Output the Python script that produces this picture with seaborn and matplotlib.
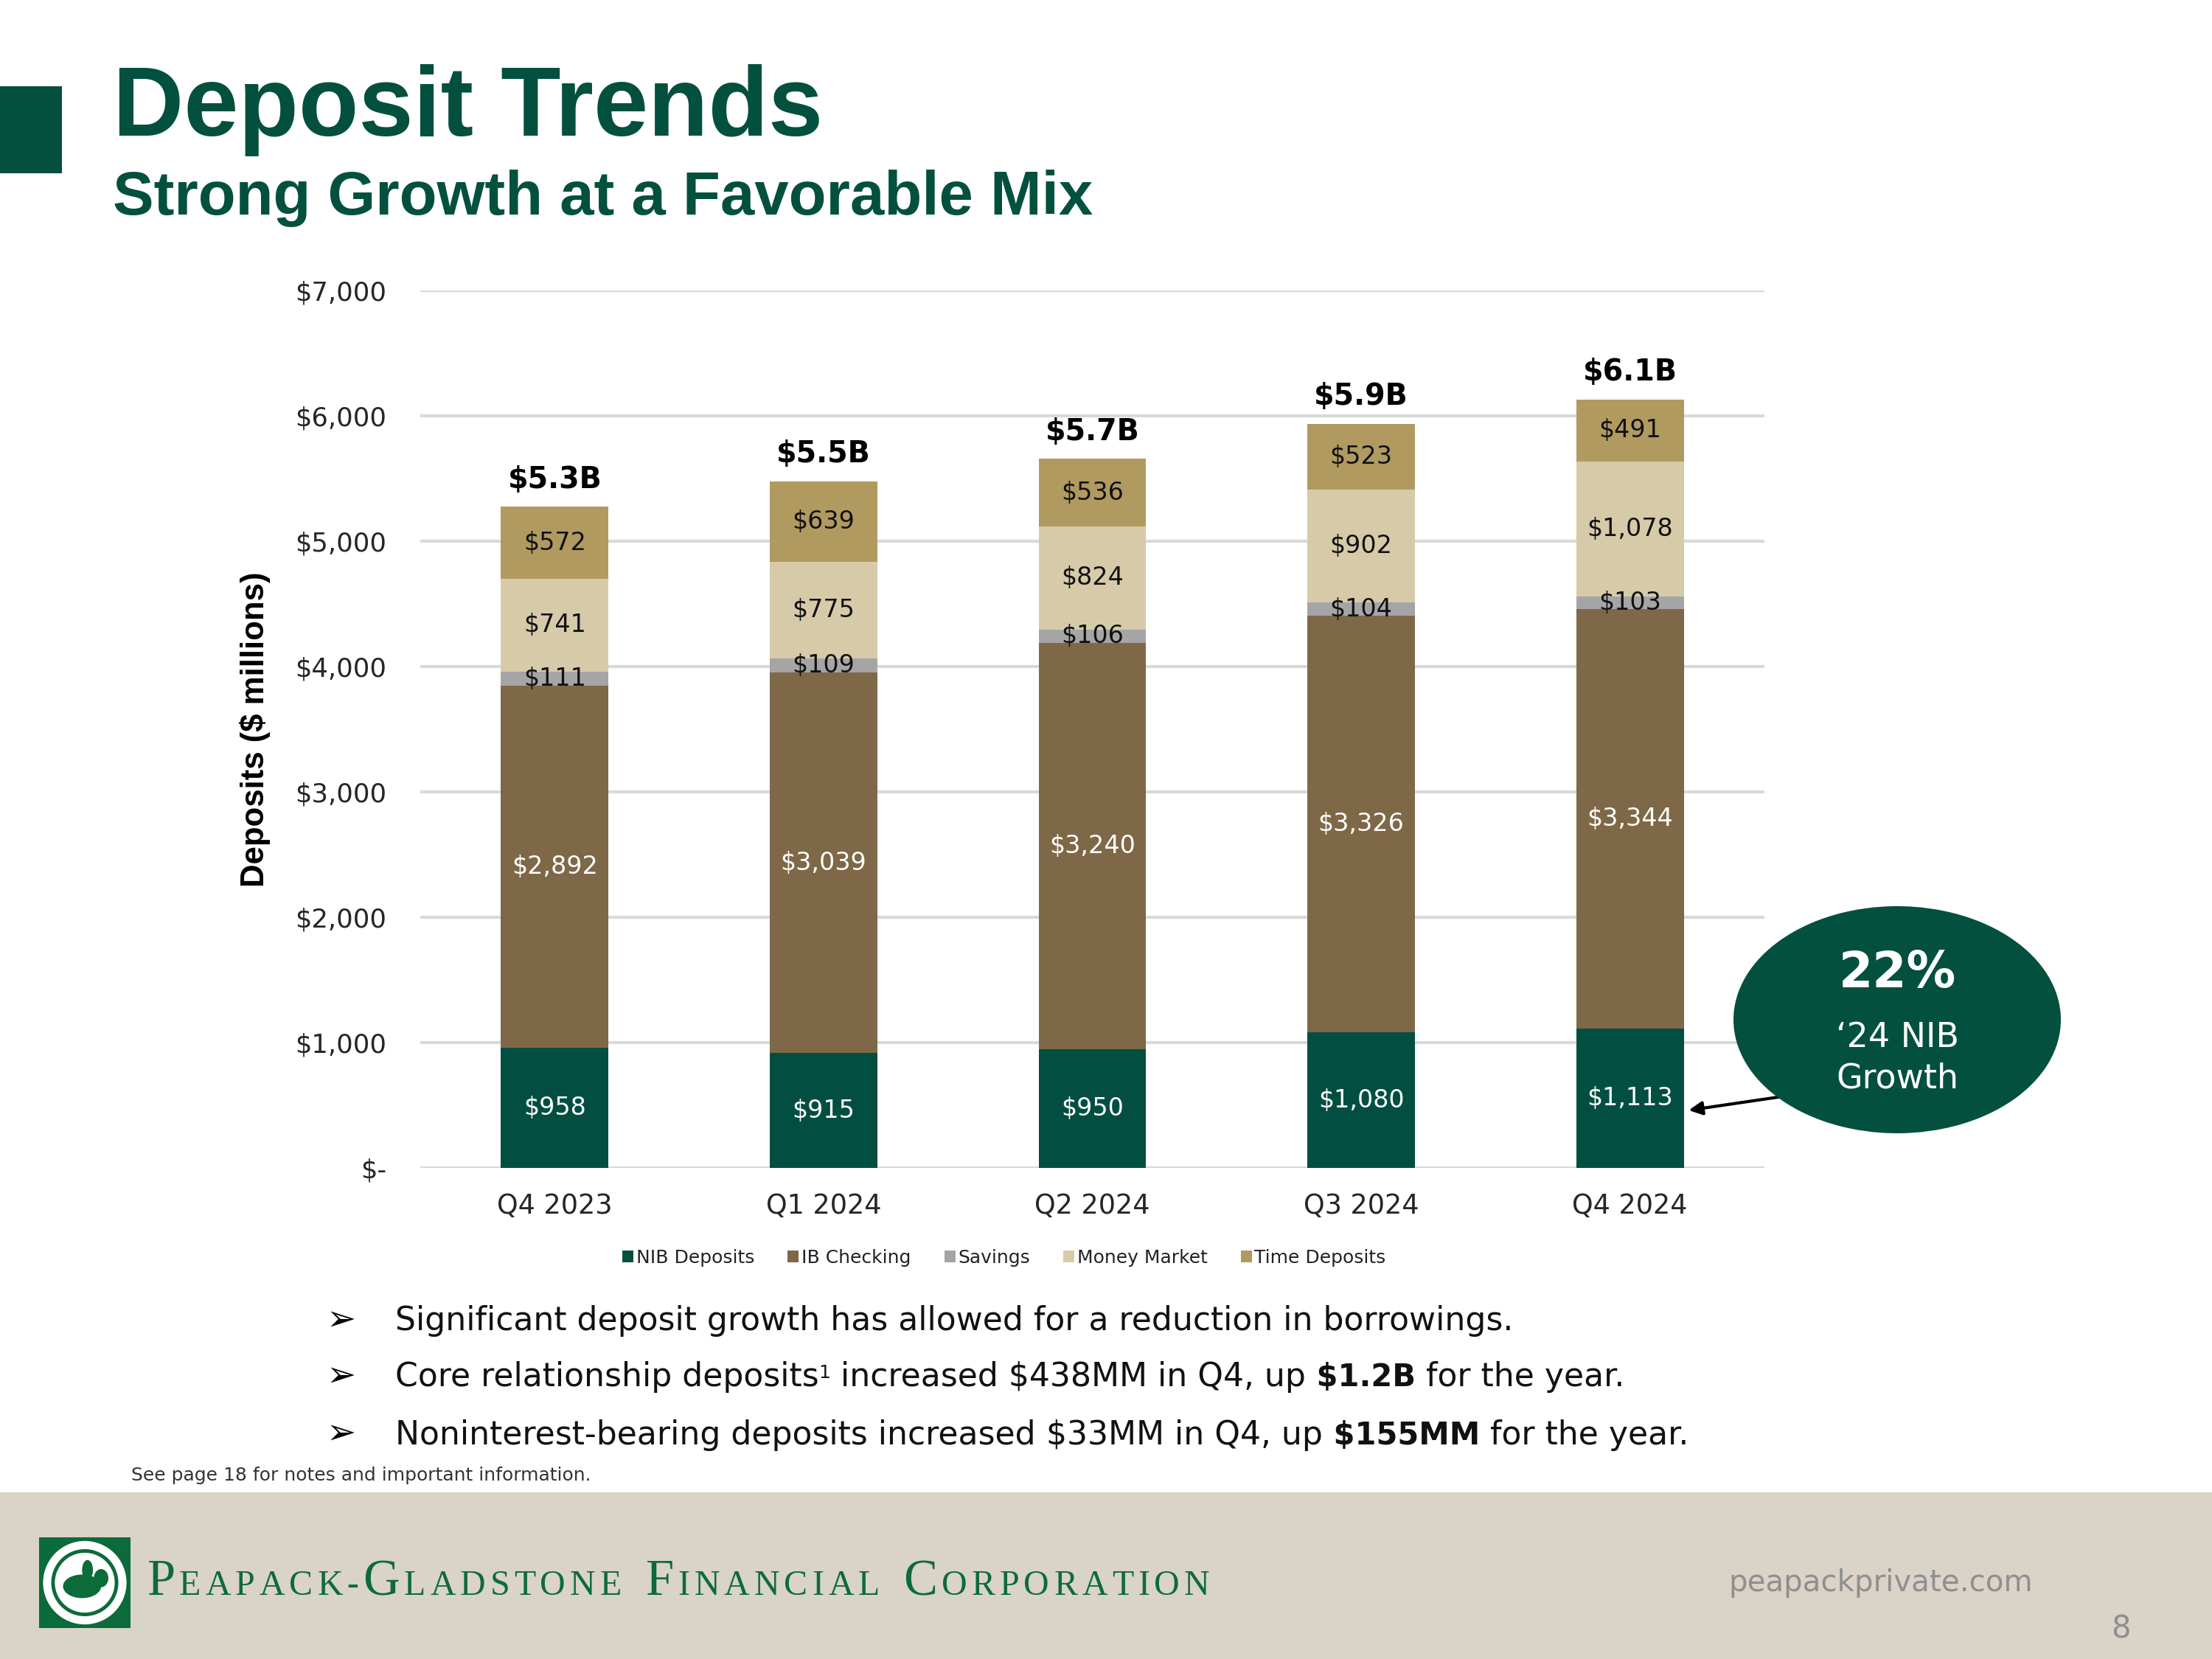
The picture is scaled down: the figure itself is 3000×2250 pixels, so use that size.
import numpy as np
import pandas as pd
import matplotlib
matplotlib.use("Agg")
import matplotlib.pyplot as plt
import seaborn as sns
from matplotlib.patches import Rectangle, Ellipse, Circle, FancyArrowPatch, Patch

# ---------------- data ----------------
quarters = ["Q4 2023", "Q1 2024", "Q2 2024", "Q3 2024", "Q4 2024"]
nib_deposits = [958, 915, 950, 1080, 1113]
ib_checking = [2892, 3039, 3240, 3326, 3344]
savings = [111, 109, 106, 104, 103]
money_market = [741, 775, 824, 902, 1078]
time_deposits = [572, 639, 536, 523, 491]
total_labels = ["$5.3B", "$5.5B", "$5.7B", "$5.9B", "$6.1B"]
series_names = ["NIB Deposits", "IB Checking", "Savings", "Money Market", "Time Deposits"]
ytick_values = [0, 1000, 2000, 3000, 4000, 5000, 6000, 7000]
ytick_labels = ["$-", "$1,000", "$2,000", "$3,000", "$4,000", "$5,000", "$6,000", "$7,000"]

series_colors = ["#024F41", "#7F6847", "#A5A5A5", "#D6CAA9", "#B09A60"]
label_colors = ["white", "white", "#111111", "#111111", "#111111"]
GREEN = "#03503F"

W, H = 3000, 2250


def px(x, y):
    return x / W, 1 - y / H


def esc(s):
    return s.replace("$", r"\$")


sns.set_theme(style="white")
plt.rcParams["font.family"] = ["DejaVu Sans"]

fig = plt.figure(figsize=(10, 7.5), dpi=300)
fig.patch.set_facecolor("white")

# ---------------- chart ----------------
ax = fig.add_axes([570 / W, 1 - 1584 / H, 1823 / W, (1584 - 394) / H])

values = np.array([nib_deposits, ib_checking, savings, money_market, time_deposits])
stacked = np.cumsum(values, axis=0)

for i in reversed(range(len(series_names))):
    sns.barplot(x=quarters, y=stacked[i], order=quarters, color=series_colors[i],
                width=0.4, saturation=1, errorbar=None, linewidth=0, ax=ax, zorder=2)

for i in range(len(series_names)):
    for j in range(len(quarters)):
        yc = stacked[i][j] - values[i][j] / 2
        ax.text(j, yc, esc(f"${values[i][j]:,}"), ha="center", va="center",
                fontsize=8, color=label_colors[i], zorder=3)

for j in range(len(quarters)):
    ax.annotate(esc(total_labels[j]), xy=(j, stacked[-1][j]), xytext=(0, 4),
                textcoords="offset points", ha="center", va="bottom",
                fontsize=9.5, fontweight="bold", color="black")

ax.set_xlim(-0.5, 4.5)
ax.set_ylim(0, 7000)
ax.set_yticks(ytick_values, [esc(t) for t in ytick_labels])
ax.set_axisbelow(True)
ax.yaxis.grid(True, color="#D9D9D9", lw=1.0)
ax.xaxis.grid(False)
sns.despine(ax=ax, left=True, bottom=True)
ax.tick_params(axis="y", length=0, labelsize=8.5, pad=11, labelcolor="#262626")
ax.tick_params(axis="x", length=0, labelsize=8.8, pad=8, labelcolor="#262626")
ax.set_xlabel("")
ax.set_ylabel(esc("Deposits ($ millions)"), fontsize=10.5, fontweight="bold",
              family=["Liberation Sans", "DejaVu Sans"], color="black")
ax.yaxis.set_label_coords((367 - 570) / 1823, 0.5)

# legend
handles = [Patch(facecolor=c, edgecolor="none", label=n) for c, n in zip(series_colors, series_names)]
fig.legend(handles=handles, loc="center", bbox_to_anchor=px(1362, 1706), ncol=5,
           frameon=False, fontsize=6, handlelength=0.6, handleheight=0.6,
           handletextpad=0.15, columnspacing=1.8, labelcolor="#222222")

# ---------------- header ----------------
fig.add_artist(Rectangle(px(0, 235), 84 / W, 118 / H, transform=fig.transFigure,
                         facecolor=GREEN, edgecolor="none"))
fig.text(*px(153, 184), "Deposit Trends", family=["Liberation Sans", "DejaVu Sans"],
         fontsize=32, fontweight="bold", color=GREEN, va="baseline", ha="left")
fig.text(*px(153, 291), "Strong Growth at a Favorable Mix", family=["Liberation Sans", "DejaVu Sans"],
         fontsize=20, fontweight="bold", color=GREEN, va="baseline", ha="left")

# ---------------- callout ----------------
fig.add_artist(FancyArrowPatch(px(2425, 1486), px(2282, 1507), transform=fig.transFigure,
                               arrowstyle="-|>", mutation_scale=9, color="black", lw=1.0))
fig.add_artist(Ellipse(px(2573, 1383), 444 / W, 308 / H, transform=fig.transFigure,
                       facecolor=GREEN, edgecolor="none"))
fig.text(*px(2573, 1320), "22%", ha="center", va="center", fontsize=16, fontweight="bold", color="white")
fig.text(*px(2573, 1408), "\u201824 NIB", ha="center", va="center", fontsize=11, color="white")
fig.text(*px(2573, 1463), "Growth", ha="center", va="center", fontsize=11, color="white")

# ---------------- bullets ----------------
renderer = fig.canvas.get_renderer()


def chain(x0, y0, pieces, **common):
    x = x0
    for s, kw in pieces:
        opts = dict(common)
        opts.update(kw)
        dy = opts.pop("dy", 0)
        t = fig.text(x, y0 + dy, s, ha="left", va="baseline", **opts)
        bb = t.get_window_extent(renderer)
        x = bb.x1 / fig.bbox.width
    return x


bullet_baselines = [1804, 1880, 1959]
for yb in bullet_baselines:
    fig.text(*px(443, yb), "\u27a2", fontsize=11.5, color="black", ha="left", va="baseline")

BFS = 10.6
BOLD = {"fontweight": "bold", "fontsize": 10.0}
chain(536 / W, 1 - 1804 / H,
      [("Significant deposit growth has allowed for a reduction in borrowings.", {})],
      fontsize=BFS, color="#111111")
chain(536 / W, 1 - 1880 / H,
      [("Core relationship deposits", {}),
       ("1", {"fontsize": 6, "dy": 11 / H}),
       (esc(" increased $438MM in Q4, up"), {}),
       (esc(" $1.2B"), BOLD),
       (" for the year.", {})],
      fontsize=BFS, color="#111111")
chain(536 / W, 1 - 1959 / H,
      [("Noninterest-bearing deposits increased ", {}),
       (esc("$33MM in Q4, up"), {}),
       (esc(" $155MM"), BOLD),
       (" for the year.", {})],
      fontsize=BFS, color="#111111")

fig.text(*px(178, 2008), "See page 18 for notes and important information.", fontsize=6,
         color="#333333", ha="left", va="baseline")

# ---------------- footer ----------------
fig.add_artist(Rectangle((0, 0), 1, 1 - 2024 / H, transform=fig.transFigure,
                         facecolor="#DAD3C7", edgecolor="none", zorder=0))

LOGO = "#0B6B3A"
logo = fig.add_axes([53 / W, 1 - 2208 / H, 124 / W, 123 / H])
logo.set_xlim(0, 1)
logo.set_ylim(0, 1)
logo.set_aspect("equal")
logo.axis("off")
logo.add_patch(Rectangle((0, 0), 1, 1, facecolor=LOGO, edgecolor="none"))
logo.add_patch(Circle((0.5, 0.5), 0.46, facecolor="white", edgecolor="none"))
logo.add_patch(Circle((0.5, 0.5), 0.37, facecolor=LOGO, edgecolor="none"))
logo.add_patch(Circle((0.5, 0.5), 0.33, facecolor="white", edgecolor="none"))
logo.add_patch(Ellipse((0.47, 0.46), 0.42, 0.26, facecolor=LOGO, edgecolor="none"))
logo.add_patch(Ellipse((0.53, 0.64), 0.12, 0.22, facecolor=LOGO, edgecolor="none"))
logo.add_patch(Ellipse((0.68, 0.55), 0.16, 0.2, facecolor=LOGO, edgecolor="none"))

# company name in spaced small caps
serif = ["Liberation Serif", "DejaVu Serif"]
big, small = 16.5, 11.5
name_parts = [("P", big), ("EAPACK-", small), ("G", big), ("LADSTONE", small), (" ", big),
              ("F", big), ("INANCIAL", small), (" ", big), ("C", big), ("ORPORATION", small)]
glyphs = [(ch, sz) for s, sz in name_parts for ch in s]
widths = []
for ch, sz in glyphs:
    if ch == " ":
        widths.append(sz * 300 / 72 * 0.3)
    else:
        t = fig.text(0, 0, ch, fontsize=sz, family=serif)
        widths.append(t.get_window_extent(renderer).width)
        t.remove()
start_x, end_x = 199, 1640
track = (end_x - start_x - sum(widths)) / (len(glyphs) - 1)
xc = start_x
for (ch, sz), wdt in zip(glyphs, widths):
    if ch != " ":
        fig.text(*px(xc, 2163), ch, fontsize=sz, family=serif, color="#0D6B3A",
                 ha="left", va="baseline")
    xc += wdt + track

fig.text(*px(2757, 2158), "peapackprivate.com", fontsize=9.7, color="#8F8F8F", ha="right", va="baseline")
fig.text(*px(2890, 2222), "8", fontsize=10, color="#8F8F8F", ha="right", va="baseline")

fig.savefig("out.png", dpi=300, facecolor="white")
